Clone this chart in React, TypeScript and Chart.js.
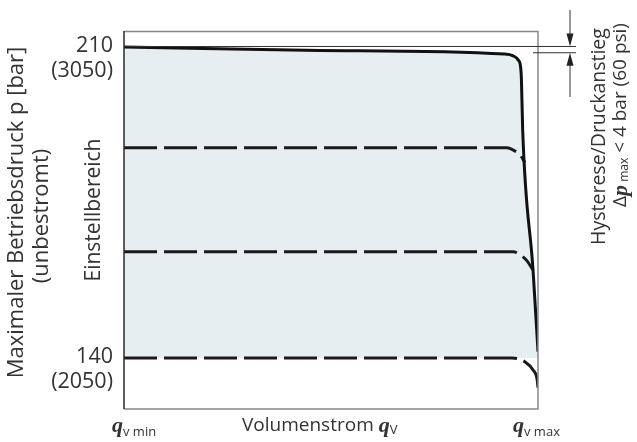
import React, { useEffect, useRef } from "react";
import { Chart, registerables } from "chart.js";

Chart.register(...registerables);

// ---- data (flow in % of range, pressure in bar) ----
const Q_MIN = 0;
const Q_MAX = 100;
const P_AXIS_MIN = 128.5;
const P_AXIS_MAX = 213.6;

const P_TICKS = [210, 140];
const P_TICK_LABELS = ["210", "140"];
const PSI_TICK_LABELS = ["(3050)", "(2050)"];

// solid characteristic (max. pressure, de-energised)
const SOLID_Q = [0, 47.3, 92.0, 94.0, 95.2, 95.8, 96.0, 96.3, 98.8, 100];
const SOLID_P = [210, 209.2, 208.4, 208.0, 207.1, 205.5, 202.6, 191.3, 159.8, 141.4];

// dashed setting levels
const DASH1_Q = [0, 92.5, 94.4, 95.7, 96.8];
const DASH1_P = [187.3, 187.3, 186.6, 185.7, 184.0];
const DASH2_Q = [0, 94.0, 95.9, 97.3, 98.8];
const DASH2_P = [163.9, 163.9, 163.1, 161.9, 159.8];
const DASH3_Q = [0, 93.7, 96.9, 98.8, 99.8, 100];
const DASH3_P = [140, 140, 139.1, 137.3, 135.1, 133.3];

const FILL_BASE_P = 140;
const HYST_P = [210, 208.7];

const TEXT = "#333333";
const SANS = "'Open Sans', 'Noto Sans', sans-serif";
const SERIF_BI = "bold italic 22px 'Liberation Serif', 'DejaVu Serif', serif";

const pts = (q: number[], p: number[]) => q.map((v, i) => ({ x: v, y: p[i] }));

type Seg = { t: string; font: string; dy?: number };

function drawRich(ctx: CanvasRenderingContext2D, segs: Seg[], x: number, y: number, align: "left" | "center", rotate: boolean) {
  ctx.save();
  ctx.translate(x, y);
  if (rotate) ctx.rotate(-Math.PI / 2);
  ctx.textAlign = "left";
  ctx.textBaseline = "middle";
  let w = 0;
  for (const s of segs) {
    ctx.font = s.font;
    w += ctx.measureText(s.t).width;
  }
  let cx = align === "center" ? -w / 2 : 0;
  for (const s of segs) {
    ctx.font = s.font;
    ctx.fillText(s.t, cx, s.dy || 0);
    cx += ctx.measureText(s.t).width;
  }
  ctx.restore();
}

const decor = {
  id: "decor",
  afterDatasetsDraw(chart: any) {
    const { ctx, chartArea: a, scales } = chart;
    const ys = scales.y;
    ctx.save();

    // frame
    ctx.lineWidth = 1.5;
    ctx.strokeStyle = "#888888";
    ctx.beginPath();
    ctx.moveTo(a.left, a.top + 0.5);
    ctx.lineTo(a.right, a.top + 0.5);
    ctx.lineTo(a.right, a.bottom);
    ctx.lineTo(a.left, a.bottom);
    ctx.stroke();
    ctx.strokeStyle = "#2a2a2a";
    ctx.beginPath();
    ctx.moveTo(a.left, a.top);
    ctx.lineTo(a.left, a.bottom);
    ctx.stroke();

    // hysteresis marks
    const y1 = ys.getPixelForValue(HYST_P[0]) - 0.5;
    const y2 = ys.getPixelForValue(HYST_P[1]);
    const ax = a.right + 32;
    ctx.strokeStyle = "#333";
    ctx.lineWidth = 1;
    ctx.beginPath();
    ctx.moveTo(a.left, y1);
    ctx.lineTo(ax + 6, y1);
    ctx.moveTo(a.right - 5, y2);
    ctx.lineTo(ax + 6, y2);
    ctx.moveTo(ax, 10);
    ctx.lineTo(ax, y1 - 6);
    ctx.moveTo(ax, y2 + 6);
    ctx.lineTo(ax, 97);
    ctx.stroke();
    ctx.fillStyle = "#222";
    ctx.beginPath();
    ctx.moveTo(ax, y1);
    ctx.lineTo(ax - 3.5, y1 - 13);
    ctx.lineTo(ax + 3.5, y1 - 13);
    ctx.closePath();
    ctx.fill();
    ctx.beginPath();
    ctx.moveTo(ax, y2);
    ctx.lineTo(ax - 3.5, y2 + 13);
    ctx.lineTo(ax + 3.5, y2 + 13);
    ctx.closePath();
    ctx.fill();

    // tick labels
    ctx.fillStyle = TEXT;
    ctx.textAlign = "right";
    ctx.textBaseline = "middle";
    ctx.font = `21.5px ${SANS}`;
    P_TICKS.forEach((v, i) => {
      const py = ys.getPixelForValue(v);
      ctx.fillText(P_TICK_LABELS[i], a.left - 11, py - 1.5);
      ctx.fillText(PSI_TICK_LABELS[i], a.left - 11, py + 24);
    });

    // y titles
    drawRich(ctx, [{ t: "Maximaler Betriebsdruck p [bar]", font: `22px ${SANS}` }], 17, 212.5, "center", true);
    drawRich(ctx, [{ t: "(unbestromt)", font: `22px ${SANS}` }], 42, 216, "center", true);
    drawRich(ctx, [{ t: "Einstellbereich", font: `21px ${SANS}` }], 94, 210, "center", true);

    // right annotation
    drawRich(ctx, [{ t: "Hysterese/Druckanstieg", font: `19.5px ${SANS}` }], 599, 136.5, "center", true);
    drawRich(
      ctx,
      [
        { t: "\u0394", font: `19px ${SANS}` },
        { t: "p", font: SERIF_BI },
        { t: " max", font: `12px ${SANS}`, dy: 4 },
        { t: " < 4 bar (60 psi)", font: `19px ${SANS}` },
      ],
      621,
      115,
      "center",
      true
    );

    // x labels
    const sub = `13px ${SANS}`;
    const f19 = `19px ${SANS}`;
    drawRich(ctx, [{ t: "q", font: SERIF_BI }, { t: "v min", font: sub, dy: 6 }], 112, 426, "left", false);
    drawRich(ctx, [{ t: "Volumenstrom ", font: f19 }, { t: "q", font: SERIF_BI }, { t: "V", font: sub, dy: 4 }], 242, 426, "left", false);
    drawRich(ctx, [{ t: "q", font: SERIF_BI }, { t: "v max", font: sub, dy: 6 }], 513, 426, "left", false);

    ctx.restore();
  },
};

export default function App() {
  const ref = useRef<HTMLCanvasElement>(null);
  useEffect(() => {
    if (!ref.current) return;
    const dashed = (q: number[], p: number[]) => ({
      data: pts(q, p),
      borderColor: "#1a1a1a",
      borderWidth: 3,
      borderDash: [33, 7],
      pointRadius: 0,
      fill: false,
      cubicInterpolationMode: "monotone" as const,
    });
    const chart = new Chart(ref.current, {
      type: "line",
      data: {
        datasets: [
          {
            data: pts(SOLID_Q, SOLID_P),
            borderColor: "#111111",
            borderWidth: 3,
            pointRadius: 0,
            fill: { value: FILL_BASE_P },
            backgroundColor: "#e6eef2",
            cubicInterpolationMode: "monotone",
          },
          dashed(DASH1_Q, DASH1_P),
          dashed(DASH2_Q, DASH2_P),
          dashed(DASH3_Q, DASH3_P),
        ],
      },
      options: {
        animation: false,
        responsive: false,
        devicePixelRatio: 1,
        layout: { padding: { left: 124, right: 99, top: 31, bottom: 33 } },
        scales: {
          x: { type: "linear", min: Q_MIN, max: Q_MAX, display: false },
          y: { type: "linear", min: P_AXIS_MIN, max: P_AXIS_MAX, display: false },
        },
        plugins: {
          legend: { display: false },
          tooltip: { enabled: false },
          filler: { drawTime: "beforeDatasetsDraw" },
        } as any,
      },
      plugins: [decor],
    });
    return () => chart.destroy();
  }, []);
  return (
    <div style={{ position: "fixed", left: 0, top: 0, width: 637, height: 442, background: "#fff" }}>
      <canvas ref={ref} width={637} height={442} style={{ width: 637, height: 442, display: "block" }} />
    </div>
  );
}
